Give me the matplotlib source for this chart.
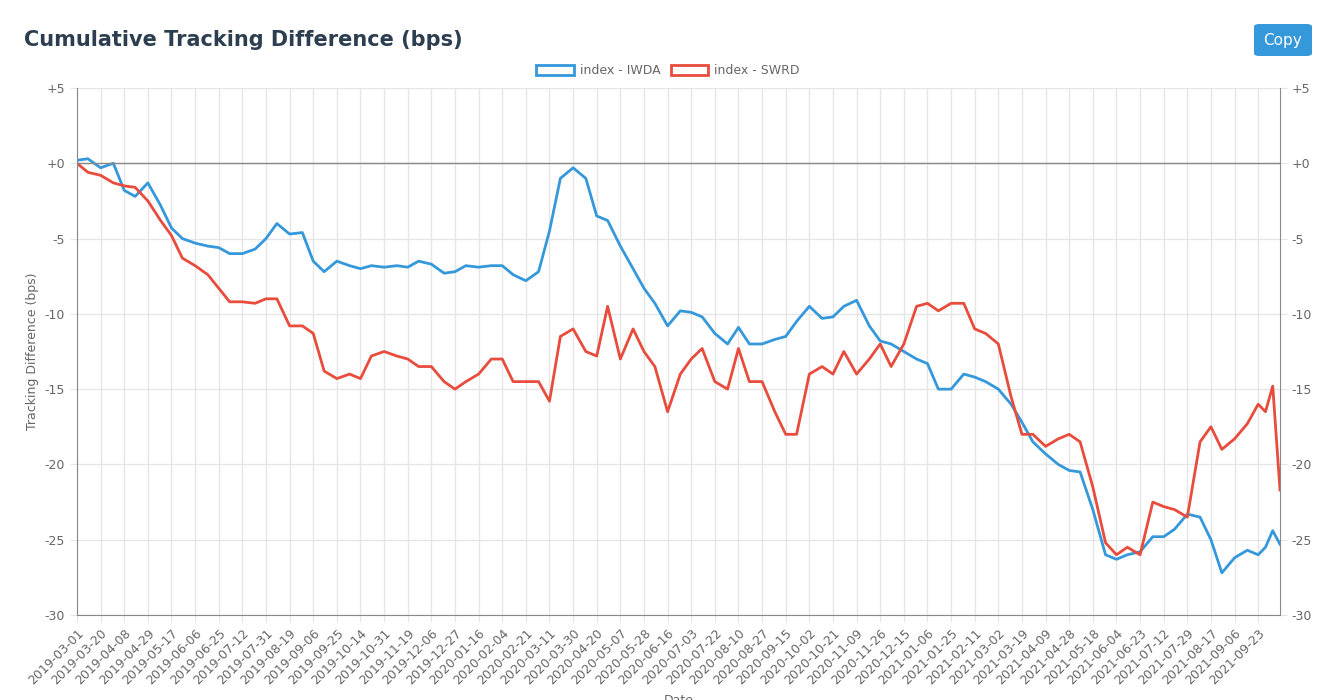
import numpy as np
import matplotlib.pyplot as plt
from matplotlib.patches import Patch, FancyBboxPatch

tick_labels = [
    "2019-03-01", "2019-03-20", "2019-04-08", "2019-04-29", "2019-05-17", "2019-06-06",
    "2019-06-25", "2019-07-12", "2019-07-31", "2019-08-19", "2019-09-06", "2019-09-25",
    "2019-10-14", "2019-10-31", "2019-11-19", "2019-12-06", "2019-12-27", "2020-01-16",
    "2020-02-04", "2020-02-21", "2020-03-11", "2020-03-30", "2020-04-20", "2020-05-07",
    "2020-05-28", "2020-06-16", "2020-07-03", "2020-07-22", "2020-08-10", "2020-08-27",
    "2020-09-15", "2020-10-02", "2020-10-21", "2020-11-09", "2020-11-26", "2020-12-15",
    "2021-01-06", "2021-01-25", "2021-02-11", "2021-03-02", "2021-03-19", "2021-04-09",
    "2021-04-28", "2021-05-18", "2021-06-04", "2021-06-23", "2021-07-12", "2021-07-29",
    "2021-08-17", "2021-09-06", "2021-09-23",
]
n_days = 663          # business days on the category axis
label_step = 13

# sampled roughly every 6.5 business days, plus the last few days
day_idx = list(np.round(np.arange(0, 651, 6.5)).astype(int)) + [654, 658, 662]

iwda = [0.2, 0.3, -0.3, 0.0, -1.8, -2.2, -1.3, -2.8, -4.3, -5.0,
        -5.3, -5.5, -5.6, -6.0, -6.0, -5.7, -5.0, -4.0, -4.7, -4.6,
        -6.5, -7.2, -6.5, -6.8, -7.0, -6.8, -6.9, -6.8, -6.9, -6.5,
        -6.7, -7.3, -7.2, -6.8, -6.9, -6.8, -6.8, -7.4, -7.8, -7.2,
        -4.5, -1.0, -0.3, -1.0, -3.5, -3.8, -5.5, -7.0, -8.3, -9.3,
        -10.8, -9.8, -9.9, -10.2, -11.3, -12.0, -10.9, -12.0, -12.0, -11.7,
        -11.5, -10.5, -9.5, -10.3, -10.2, -9.5, -9.1, -10.8, -11.8, -12.0,
        -12.5, -13.0, -13.3, -15.0, -15.0, -14.0, -14.2, -14.5, -15.0, -16.0,
        -17.2, -18.5, -19.3, -20.0, -20.4, -20.5, -23.0, -26.0, -26.3, -26.0,
        -25.8, -24.8, -24.8, -24.3, -23.3, -23.5, -25.0, -27.2, -26.2, -25.7,
        -26.0, -25.5, -24.4, -25.3]

swrd = [0.0, -0.6, -0.8, -1.3, -1.5, -1.6, -2.5, -3.8, -4.8, -6.3,
        -6.8, -7.4, -8.3, -9.2, -9.2, -9.3, -9.0, -9.0, -10.8, -10.8,
        -11.3, -13.8, -14.3, -14.0, -14.3, -12.8, -12.5, -12.8, -13.0, -13.5,
        -13.5, -14.5, -15.0, -14.5, -14.0, -13.0, -13.0, -14.5, -14.5, -14.5,
        -15.8, -11.5, -11.0, -12.5, -12.8, -9.5, -13.0, -11.0, -12.5, -13.5,
        -16.5, -14.0, -13.0, -12.3, -14.5, -15.0, -12.3, -14.5, -14.5, -16.5,
        -18.0, -18.0, -14.0, -13.5, -14.0, -12.5, -14.0, -13.0, -12.0, -13.5,
        -12.0, -9.5, -9.3, -9.8, -9.3, -9.3, -11.0, -11.3, -12.0, -15.5,
        -18.0, -18.0, -18.8, -18.3, -18.0, -18.5, -21.5, -25.2, -26.0, -25.5,
        -26.0, -22.5, -22.8, -23.0, -23.5, -18.5, -17.5, -19.0, -18.3, -17.3,
        -16.0, -16.5, -14.8, -21.7]

blue = "#3498db"
red = "#e74c3c"
grid_c = "#e6e6e6"
text_c = "#666666"

fig = plt.figure(figsize=(13.36, 7.0), dpi=100)
ax = fig.add_axes([77 / 1336, 85 / 700, 1203 / 1336, 527 / 700])

ax.plot(day_idx, iwda, color=blue, lw=2, label="index - IWDA")
ax.plot(day_idx, swrd, color=red, lw=2, label="index - SWRD")

ax.set_xlim(0, n_days - 1)
ax.set_ylim(-30, 5)
yt = np.arange(-30, 6, 5)
ax.set_yticks(yt)
ax.set_yticklabels([("+%d" % v) if v >= 0 else "%d" % v for v in yt])
ax.set_xticks(np.arange(0, len(tick_labels)) * label_step)
ax.set_xticklabels(tick_labels, rotation=45, ha="right", rotation_mode="anchor")
ax.tick_params(colors=text_c, labelsize=9, length=5, color=grid_c, labelright=True, right=True)
ax.grid(True, color=grid_c, lw=1)
ax.axhline(0, color="#888888", lw=1)
for s in ax.spines.values():
    s.set_visible(False)
for s in ("left", "right", "bottom"):
    ax.spines[s].set_visible(True)
    ax.spines[s].set_color("#888888")
ax.set_axisbelow(True)

ax.set_ylabel("Tracking Difference (bps)", color=text_c, fontsize=9)
ax.set_xlabel("Date", color=text_c, fontsize=9)
ax.xaxis.set_label_coords(0.5, -0.15)

fig.text(24 / 1336, 1 - 40 / 700, "Cumulative Tracking Difference (bps)", fontsize=15,
         fontweight="bold", color="#2c3e50", va="center")

btn = FancyBboxPatch((1254 / 1336, 1 - 56 / 700), 58 / 1336, 32 / 700,
                     boxstyle="round,pad=0,rounding_size=0.004", transform=fig.transFigure,
                     facecolor=blue, edgecolor="none")
fig.patches.append(btn)
fig.text(1283 / 1336, 1 - 40 / 700, "Copy", color="white", fontsize=11, ha="center", va="center")

handles = [Patch(facecolor="white", edgecolor=blue, lw=2, label="index - IWDA"),
           Patch(facecolor="white", edgecolor=red, lw=2, label="index - SWRD")]
leg = fig.legend(handles=handles, loc="center", bbox_to_anchor=(0.5, 1 - 71 / 700), ncol=2,
                 frameon=False, fontsize=9, handlelength=3.0, handleheight=0.9,
                 columnspacing=0.8, handletextpad=0.5)
for t in leg.get_texts():
    t.set_color(text_c)

fig.savefig("out.png", dpi=100, facecolor="white")
